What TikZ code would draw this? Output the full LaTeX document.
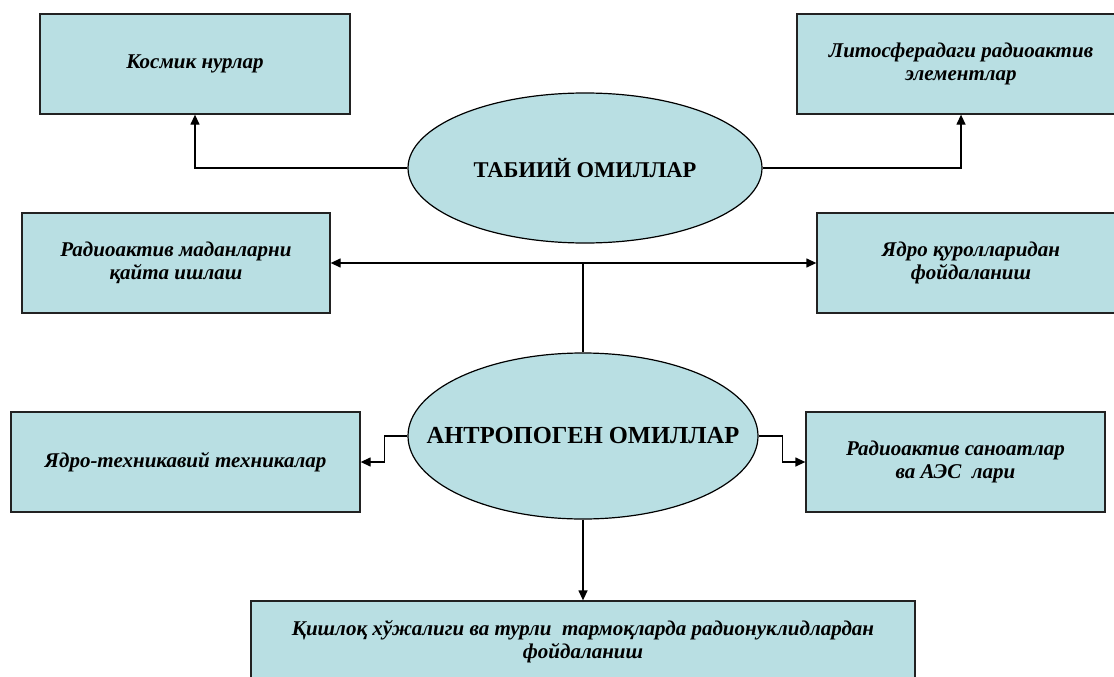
\documentclass[tikz,border=0pt]{standalone}
\usepackage{fontspec}
\setmainfont{Liberation Serif}
\usepackage{tikz}
\usetikzlibrary{arrows.meta,shapes.geometric}
\definecolor{cBox}{HTML}{B9DFE3}
\definecolor{cLine}{HTML}{222222}
\tikzset{
  >={Triangle[length=10pt,width=9pt]},
  box/.style={draw=cLine, fill=cBox, line width=1.3pt, align=center, inner sep=0pt,
              font=\bfseries\itshape\fontsize{21}{23}\selectfont,
              minimum width=#1, minimum height=100pt},
  oval/.style={ellipse, draw=black, fill=cBox, line width=1.2pt, inner sep=0pt,
               minimum width=#1},
}

\begin{document}
\begin{tikzpicture}[x=1pt, y=-1pt,
   dep/.style={->, line width=1.3pt, black},
   mdep/.style={<->, line width=1.3pt, black}]
  \useasboundingbox (0,0) rectangle (1114,677);
  \clip (0,0) rectangle (1114,677);
  \node[oval=354pt, minimum height=150pt, font=\bfseries\fontsize{22.5}{27}\selectfont]
       (tab) at (585,168) {\makebox[0pt]{ТАБИИЙ ОМИЛЛАР}};
  \node[oval=350pt, minimum height=166pt, font=\bfseries\fontsize{24.5}{28}\selectfont]
       (ant) at (583,436) {\makebox[0pt]{АНТРОПОГЕН ОМИЛЛАР}};
  \node[box=310pt] (kos) at (195,64)  {Космик нурлар};
  \node[box=328pt] (lit) at (961,64)  {Литосферадаги радиоактив\\элементлар};
  \node[box=308pt] (rad) at (176,263) {Радиоактив маданларни\\қайта ишлаш};
  \node[box=308pt] (yad) at (971,263) {Ядро қуролларидан\\фойдаланиш};
  \node[box=349pt] (tex) at (185.5,462) {Ядро-техникавий техникалар};
  \node[box=299pt] (san) at (955.5,462) {Радиоактив саноатлар\\ва АЭС\ \ лари};
  \node[box=664pt, minimum height=82pt] (qis) at (583,642)
       {Қишлоқ хўжалиги ва турли\ \ тармоқларда радионуклидлардан\\фойдаланиш};
  \coordinate (hub) at (rad.east -| ant.north);

  \draw[dep] (tab.west) -| (kos.south);
  \draw[dep] (tab.east) -| (lit.south);
  \draw[mdep] (rad.east) -- (yad.west);
  \draw[line width=1.3pt] (hub) -- (ant.north);
  \draw[dep] (ant.west) -- ++(-23,0) |- (tex.east);
  \draw[dep] (ant.east) -- ++(24,0) |- (san.west);
  \draw[dep] (ant.south) -- (qis.north);
\end{tikzpicture}
\end{document}
